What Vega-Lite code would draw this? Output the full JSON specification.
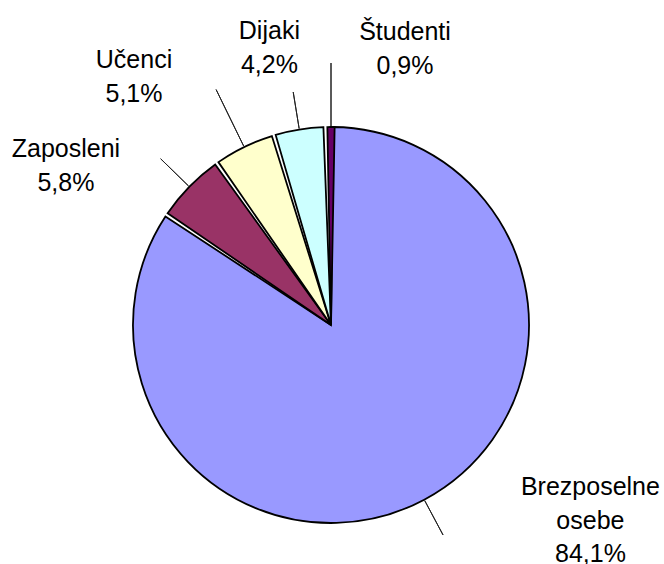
{
  "$schema": "https://vega.github.io/schema/vega-lite/v6.json",
  "width": 662,
  "height": 478,
  "autosize": {"type": "none"},
  "padding": {"top": 86, "left": 0, "right": 2, "bottom": 0},
  "background": "white",
  "config": {"view": {"stroke": null}},
  "data": {
    "values": [
      {"name": "Brezposelne osebe", "value": 84.1, "ord": 1, "label": "Brezposelne\nosebe\n84,1%"},
      {"name": "Zaposleni", "value": 5.8, "ord": 2, "label": "Zaposleni\n5,8%"},
      {"name": "Učenci", "value": 5.1, "ord": 3, "label": "Učenci\n5,1%"},
      {"name": "Dijaki", "value": 4.2, "ord": 4, "label": "Dijaki\n4,2%"},
      {"name": "Študenti", "value": 0.9, "ord": 5, "label": "Študenti\n0,9%"}
    ]
  },
  "transform": [
    {"stack": "value", "groupby": [], "sort": [{"field": "ord", "order": "ascending"}], "as": ["s", "e"]},
    {"calculate": "(datum.s + datum.e) / 2", "as": "mid"}
  ],
  "layer": [
    {
      "mark": {"type": "arc", "radius": 198, "stroke": "black", "strokeWidth": 1.8, "padAngle": 0.02},
      "encoding": {
        "theta": {"field": "s", "type": "quantitative", "stack": null},
        "theta2": {"field": "e"},
        "color": {
          "field": "name", "type": "nominal", "legend": null,
          "scale": {
            "domain": ["Brezposelne osebe", "Zaposleni", "Učenci", "Dijaki", "Študenti"],
            "range": ["#9999FF", "#993366", "#FFFFCC", "#CCFFFF", "#660066"]
          }
        }
      }
    },
    {
      "transform": [{"filter": "datum.ord == 1 || datum.ord == 2"}],
      "mark": {"type": "arc", "radius": 238, "radius2": 199, "stroke": "#222222", "strokeWidth": 1, "fill": null, "filled": false},
      "encoding": {
        "theta": {"field": "mid", "type": "quantitative", "stack": null},
        "theta2": {"field": "mid"}
      }
    },
    {
      "transform": [{"filter": "datum.ord == 3 || datum.ord == 5"}],
      "mark": {"type": "arc", "radius": 262, "radius2": 199, "stroke": "#222222", "strokeWidth": 1, "fill": null, "filled": false},
      "encoding": {
        "theta": {"field": "mid", "type": "quantitative", "stack": null},
        "theta2": {"field": "mid"}
      }
    },
    {
      "transform": [{"filter": "datum.ord == 4"}],
      "mark": {"type": "arc", "radius": 236, "radius2": 199, "stroke": "#222222", "strokeWidth": 1, "fill": null, "filled": false},
      "encoding": {
        "theta": {"field": "mid", "type": "quantitative", "stack": null},
        "theta2": {"field": "mid"}
      }
    },
    {
      "transform": [{"filter": "datum.ord == 1"}],
      "mark": {"type": "text", "radius": 260, "dx": 137, "dy": -67, "fontSize": 25, "font": "Liberation Sans", "lineBreak": "\n", "lineHeight": 33.5, "align": "center", "baseline": "middle", "color": "black"},
      "encoding": {"theta": {"field": "mid", "type": "quantitative", "stack": null}, "text": {"field": "label"}}
    },
    {
      "transform": [{"filter": "datum.ord == 2"}],
      "mark": {"type": "text", "radius": 260, "dx": -79, "dy": 6, "fontSize": 25, "font": "Liberation Sans", "lineBreak": "\n", "lineHeight": 33.5, "align": "center", "baseline": "middle", "color": "black"},
      "encoding": {"theta": {"field": "mid", "type": "quantitative", "stack": null}, "text": {"field": "label"}}
    },
    {
      "transform": [{"filter": "datum.ord == 3"}],
      "mark": {"type": "text", "radius": 260, "dx": -83, "dy": -31, "fontSize": 25, "font": "Liberation Sans", "lineBreak": "\n", "lineHeight": 33.5, "align": "center", "baseline": "middle", "color": "black"},
      "encoding": {"theta": {"field": "mid", "type": "quantitative", "stack": null}, "text": {"field": "label"}}
    },
    {
      "transform": [{"filter": "datum.ord == 4"}],
      "mark": {"type": "text", "radius": 260, "dx": -20, "dy": -37, "fontSize": 25, "font": "Liberation Sans", "lineBreak": "\n", "lineHeight": 33.5, "align": "center", "baseline": "middle", "color": "black"},
      "encoding": {"theta": {"field": "mid", "type": "quantitative", "stack": null}, "text": {"field": "label"}}
    },
    {
      "transform": [{"filter": "datum.ord == 5"}],
      "mark": {"type": "text", "radius": 260, "dx": 74, "dy": -33, "fontSize": 25, "font": "Liberation Sans", "lineBreak": "\n", "lineHeight": 33.5, "align": "center", "baseline": "middle", "color": "black"},
      "encoding": {"theta": {"field": "mid", "type": "quantitative", "stack": null}, "text": {"field": "label"}}
    }
  ]
}
